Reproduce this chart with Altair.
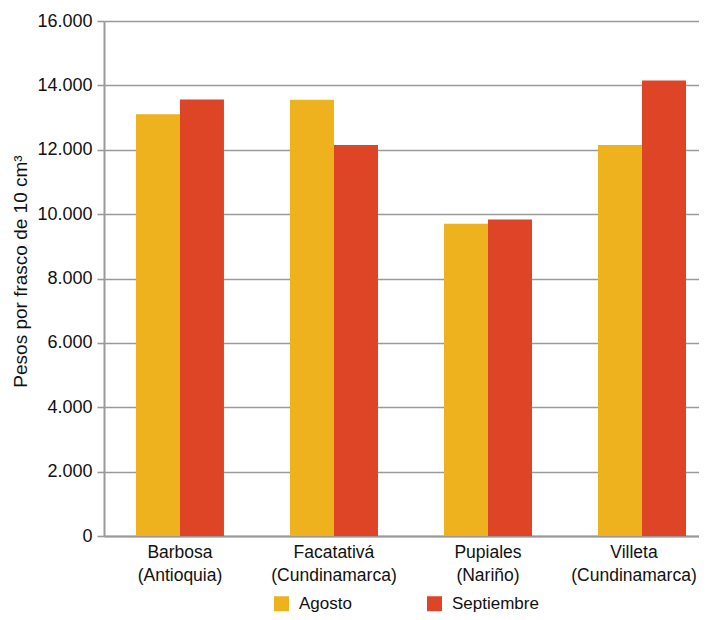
import altair as alt
import pandas as pd

categories = ["Barbosa|(Antioquia)", "Facatativá|(Cundinamarca)", "Pupiales|(Nariño)", "Villeta|(Cundinamarca)"]
months = ["Agosto", "Septiembre"]
agosto = [13100, 13550, 9700, 12150]
septiembre = [13560, 12150, 9830, 14150]
colors = ["#EFB21F", "#DE4527"]
y_ticks = [0, 2000, 4000, 6000, 8000, 10000, 12000, 14000, 16000]

rows = []
for c, a, s in zip(categories, agosto, septiembre):
    rows.append({"lugar": c, "mes": months[0], "valor": a})
    rows.append({"lugar": c, "mes": months[1], "valor": s})
df = pd.DataFrame(rows)

FONT = "Liberation Sans"

chart = alt.Chart(df).mark_bar().encode(
    x=alt.X("lugar:N", sort=categories, title=None,
            scale=alt.Scale(paddingInner=0.4286, paddingOuter=0.146, align=0.711),
            axis=alt.Axis(labelAngle=0, ticks=False, grid=False,
                          domainColor="#999999", domainWidth=2,
                          labelExpr="split(datum.label, '|')",
                          labelOffset={"condition": {"test": "datum.value == '" + categories[-1] + "'", "value": -8}, "value": 0},
                          labelFont=FONT, labelFontSize=17.5, labelColor="#111111",
                          labelLineHeight=23, labelPadding=7, labelLimit=300)),
    xOffset=alt.XOffset("mes:N", sort=months,
                        scale=alt.Scale(paddingInner=0, paddingOuter=0)),
    y=alt.Y("valor:Q", title="Pesos por frasco de 10 cm³",
            scale=alt.Scale(domain=[0, 16000], nice=False),
            axis=alt.Axis(values=y_ticks, grid=True, gridColor="#9a9a9a", gridWidth=1.6,
                          domainColor="#9a9a9a", domainWidth=2,
                          tickColor="#9a9a9a", tickSize=7, tickWidth=1.6,
                          labelExpr="replace(format(datum.value, ','), ',', '.')",
                          labelFont=FONT, labelFontSize=18, labelColor="#111111",
                          labelPadding=5,
                          titleFont=FONT, titleFontSize=19, titleFontWeight="normal",
                          titleColor="#111111", titleAngle=-90,
                          titleX=-78, titleY=250, titleAlign="center",
                          titleBaseline="alphabetic")),
    color=alt.Color("mes:N", sort=months,
                    scale=alt.Scale(domain=months, range=colors),
                    legend=alt.Legend(title=None, orient="none", legendX=169, legendY=574,
                                      direction="horizontal", symbolType="square",
                                      symbolSize=225, symbolStrokeWidth=0,
                                      labelFont=FONT, labelFontSize=17, labelColor="#111111",
                                      labelOffset=9, columnPadding=74)),
).properties(
    width=595,
    height=515,
    autosize=alt.AutoSizeParams(type="none"),
    padding={"left": 96, "top": 13, "right": 0, "bottom": 76},
    background="white",
).configure_view(stroke=None)

chart.save("out.html", embed_options={"renderer": "svg", "actions": False})
